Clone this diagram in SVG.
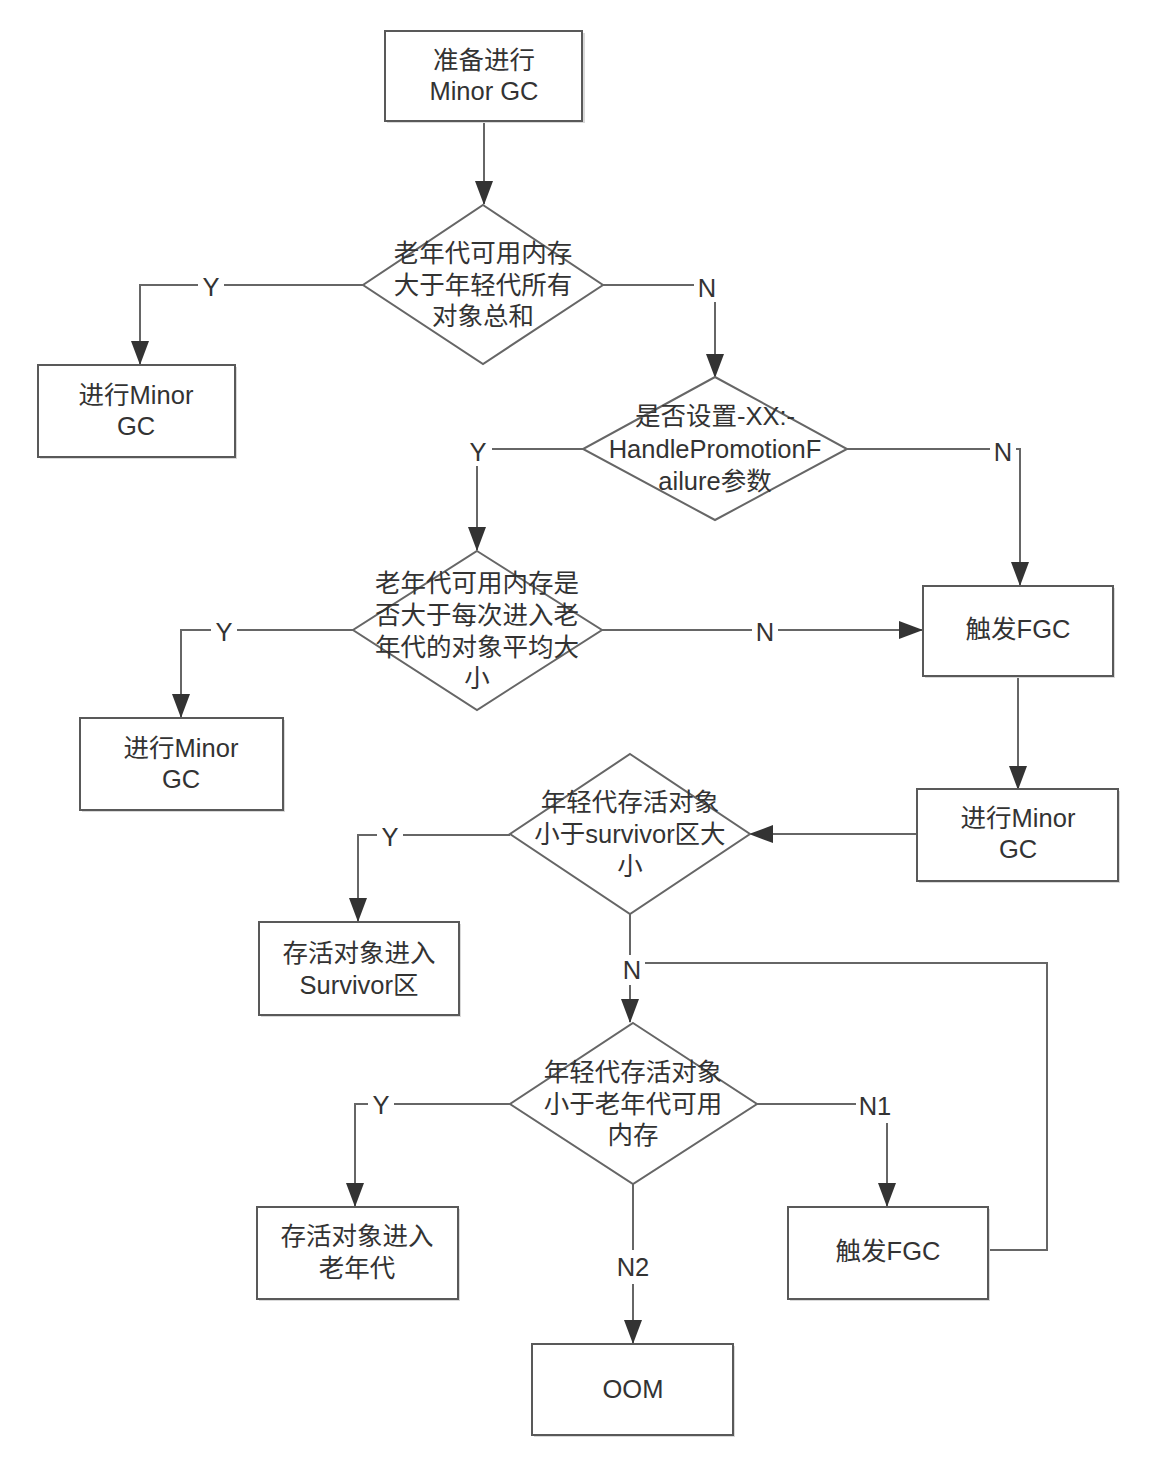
<svg xmlns="http://www.w3.org/2000/svg" width="1166" height="1466" viewBox="0 0 1166 1466">
<style>
.box{fill:#fff;stroke:#595959;stroke-width:2}
.sh{fill:#d9d9d9}
.dia{fill:#fff;stroke:#666;stroke-width:2}
.t{font-family:"Liberation Sans","Noto Sans CJK SC",sans-serif;font-size:25.5px;fill:#333;text-anchor:middle;dominant-baseline:central}
.ln{fill:none;stroke:#666;stroke-width:2}
.lb{fill:#fff}
</style>
<defs>
<marker id="ah" markerUnits="userSpaceOnUse" markerWidth="24" markerHeight="20" refX="23" refY="9" orient="auto">
<path d="M0,0 L24,9 L0,18 Z" fill="#333"/>
</marker>
</defs>
<rect width="1166" height="1466" fill="#fff"/>

<g id="connectors">
<path class="ln" d="M484,121 V204" marker-end="url(#ah)"/>
<path class="ln" d="M363,285 H140 V364" marker-end="url(#ah)"/>
<path class="ln" d="M603,285 H715 V377" marker-end="url(#ah)"/>
<path class="ln" d="M583,449 H477 V550" marker-end="url(#ah)"/>
<path class="ln" d="M847,449 H1020 V585" marker-end="url(#ah)"/>
<path class="ln" d="M353,630 H181 V717" marker-end="url(#ah)"/>
<path class="ln" d="M602,630 H922" marker-end="url(#ah)"/>
<path class="ln" d="M1018,676 V789" marker-end="url(#ah)"/>
<path class="ln" d="M917,834 H750" marker-end="url(#ah)"/>
<path class="ln" d="M510,835 H358 V921" marker-end="url(#ah)"/>
<path class="ln" d="M630,914 V1022" marker-end="url(#ah)"/>
<path class="ln" d="M988,1250 H1047 V963 H632"/>
<path class="ln" d="M510,1104 H355 V1206" marker-end="url(#ah)"/>
<path class="ln" d="M757,1104 H887 V1206" marker-end="url(#ah)"/>
<path class="ln" d="M633,1183 V1343" marker-end="url(#ah)"/>
<rect class="lb" x="198" y="272" width="26" height="28"/><text class="t" x="211" y="287">Y</text>
<rect class="lb" x="694" y="272" width="26" height="30"/><text class="t" x="707" y="288">N</text>
<rect class="lb" x="466" y="436" width="26" height="30"/><text class="t" x="478" y="452">Y</text>
<rect class="lb" x="990" y="436" width="26" height="30"/><text class="t" x="1003" y="452">N</text>
<rect class="lb" x="211" y="618" width="26" height="28"/><text class="t" x="224" y="632">Y</text>
<rect class="lb" x="752" y="618" width="26" height="28"/><text class="t" x="765" y="632">N</text>
<rect class="lb" x="377" y="822" width="26" height="28"/><text class="t" x="390" y="837">Y</text>
<rect class="lb" x="619" y="955" width="26" height="30"/><text class="t" x="632" y="970">N</text>
<rect class="lb" x="368" y="1091" width="26" height="28"/><text class="t" x="381" y="1105">Y</text>
<rect class="lb" x="856" y="1091" width="38" height="32"/><text class="t" x="875" y="1106">N1</text>
<rect class="lb" x="613" y="1250" width="40" height="34"/><text class="t" x="633" y="1267">N2</text>
</g>

<g id="start">
<rect class="sh" x="387" y="33" width="198" height="90"/>
<rect class="box" x="385" y="31" width="197" height="90"/>
<text class="t" x="484" y="60">准备进行</text>
<text class="t" x="484" y="91">Minor GC</text>
</g>

<g id="d1">
<polygon class="dia" points="483,205 603,285 483,364 363,285"/>
<text class="t" x="483" y="253">老年代可用内存</text>
<text class="t" x="483" y="285">大于年轻代所有</text>
<text class="t" x="483" y="316">对象总和</text>
</g>

<g id="minor1">
<rect class="sh" x="40" y="367" width="197" height="92"/>
<rect class="box" x="38" y="365" width="197" height="92"/>
<text class="t" x="136" y="395">进行Minor</text>
<text class="t" x="136" y="426">GC</text>
</g>

<g id="d2">
<polygon class="dia" points="715,377 847,449 715,520 583,449"/>
<text class="t" x="715" y="416">是否设置-XX:-</text>
<text class="t" x="715" y="449">HandlePromotionF</text>
<text class="t" x="715" y="481">ailure参数</text>
</g>

<g id="d3">
<polygon class="dia" points="477,551 602,630 477,710 353,630"/>
<text class="t" x="477" y="583">老年代可用内存是</text>
<text class="t" x="477" y="615">否大于每次进入老</text>
<text class="t" x="477" y="647">年代的对象平均大</text>
<text class="t" x="477" y="678">小</text>
</g>

<g id="minor2">
<rect class="sh" x="82" y="720" width="203" height="92"/>
<rect class="box" x="80" y="718" width="203" height="92"/>
<text class="t" x="181" y="748">进行Minor</text>
<text class="t" x="181" y="779">GC</text>
</g>

<g id="fgc1">
<rect class="sh" x="925" y="588" width="190" height="90"/>
<rect class="box" x="923" y="586" width="190" height="90"/>
<text class="t" x="1018" y="629">触发FGC</text>
</g>

<g id="minor3">
<rect class="sh" x="919" y="791" width="201" height="92"/>
<rect class="box" x="917" y="789" width="201" height="92"/>
<text class="t" x="1018" y="818">进行Minor</text>
<text class="t" x="1018" y="849">GC</text>
</g>

<g id="d4">
<polygon class="dia" points="630,754 750,834 630,914 510,834"/>
<text class="t" x="630" y="802">年轻代存活对象</text>
<text class="t" x="630" y="834">小于survivor区大</text>
<text class="t" x="630" y="866">小</text>
</g>

<g id="survivor">
<rect class="sh" x="261" y="924" width="200" height="93"/>
<rect class="box" x="259" y="922" width="200" height="93"/>
<text class="t" x="359" y="953">存活对象进入</text>
<text class="t" x="359" y="985">Survivor区</text>
</g>

<g id="d5">
<polygon class="dia" points="633,1023 757,1104 633,1184 510,1104"/>
<text class="t" x="633" y="1072">年轻代存活对象</text>
<text class="t" x="633" y="1104">小于老年代可用</text>
<text class="t" x="633" y="1135">内存</text>
</g>

<g id="old">
<rect class="sh" x="259" y="1209" width="201" height="92"/>
<rect class="box" x="257" y="1207" width="201" height="92"/>
<text class="t" x="357" y="1236">存活对象进入</text>
<text class="t" x="357" y="1268">老年代</text>
</g>

<g id="fgc2">
<rect class="sh" x="790" y="1209" width="200" height="92"/>
<rect class="box" x="788" y="1207" width="200" height="92"/>
<text class="t" x="888" y="1251">触发FGC</text>
</g>

<g id="oom">
<rect class="sh" x="534" y="1346" width="201" height="91"/>
<rect class="box" x="532" y="1344" width="201" height="91"/>
<text class="t" x="633" y="1389">OOM</text>
</g>
</svg>
